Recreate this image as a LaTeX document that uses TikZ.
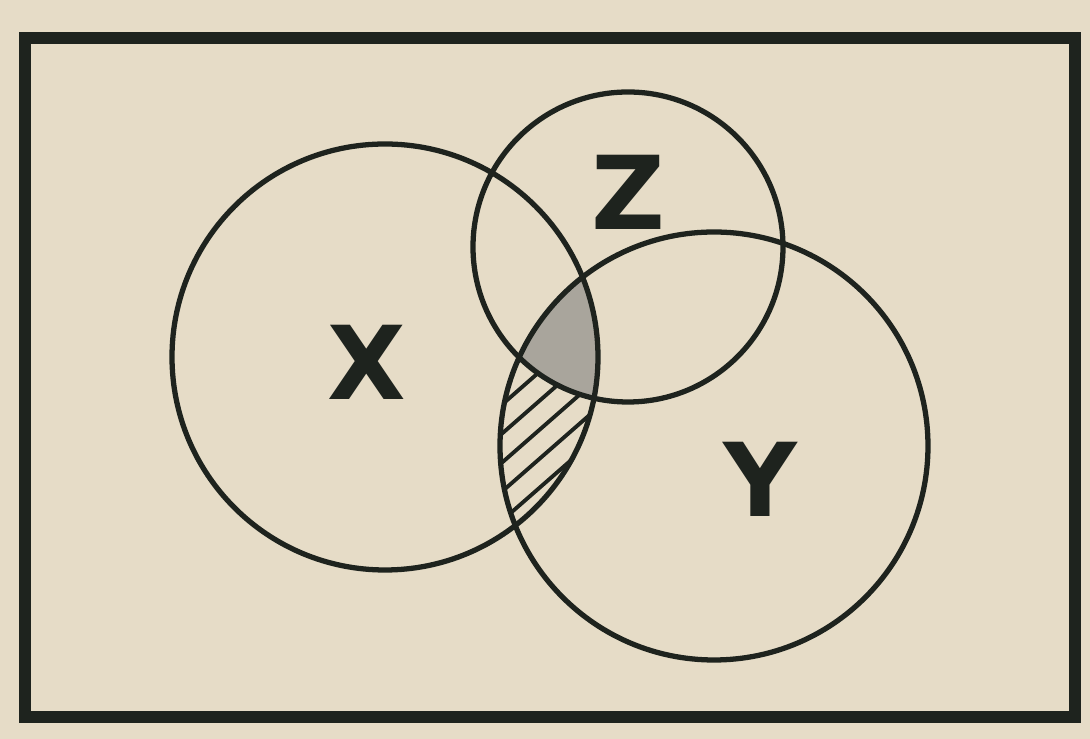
\documentclass[tikz,border=0pt]{standalone}
\usepackage{fontspec}
\setmainfont{DejaVu Sans}
\usetikzlibrary{positioning,calc}
\definecolor{Paper}{HTML}{E6DCC7}
\definecolor{Ink}{HTML}{1E231E}
\definecolor{Shade}{HTML}{A9A59C}
\tikzset{
  frame/.style={draw=Ink,line width=3.4pt},
  setline/.style={draw=Ink,line width=1.5pt},
  hatchline/.style={draw=Ink,line width=1.1pt},
  setlabel/.style={font=\fontsize{29}{29}\selectfont\bfseries,text=Ink,inner sep=0pt}
}
\begin{document}
\begin{tikzpicture}[x=1cm,y=1cm]
  \fill[Paper] (0,0) rectangle (10.9,7.39);
  \useasboundingbox (0,0) rectangle (10.9,7.39);
  % the three sets
  \coordinate (cx) at (3.85,3.82);
  \coordinate (cz) at (6.28,4.92);
  \coordinate (cy) at (7.14,2.93);
  % hatched part: X and Y, outside Z
  \begin{scope}
    \clip (cx) circle (2.13);
    \clip (cy) circle (2.14);
    \foreach \k in {-4,...,9}
      \draw[hatchline] ($(cx)+(0,0.29*\k-1.5)$) -- ++(4,3.5);
    % shaded part: all three
    \clip (cz) circle (1.55);
    \fill[Shade] (cx) circle (2.13);
  \end{scope}
  \draw[setline] (cx) circle (2.13);
  \draw[setline] (cz) circle (1.55);
  \draw[setline] (cy) circle (2.14);
  \draw[frame] (0.25,0.22) rectangle (10.75,7.01);
  \node[setlabel] (xlab) at (3.67,3.77) {X};
  \node[setlabel] (zlab) at (6.28,5.47) {Z};
  \node[setlabel] (ylab) at (7.60,2.60) {Y};
\end{tikzpicture}
\end{document}
